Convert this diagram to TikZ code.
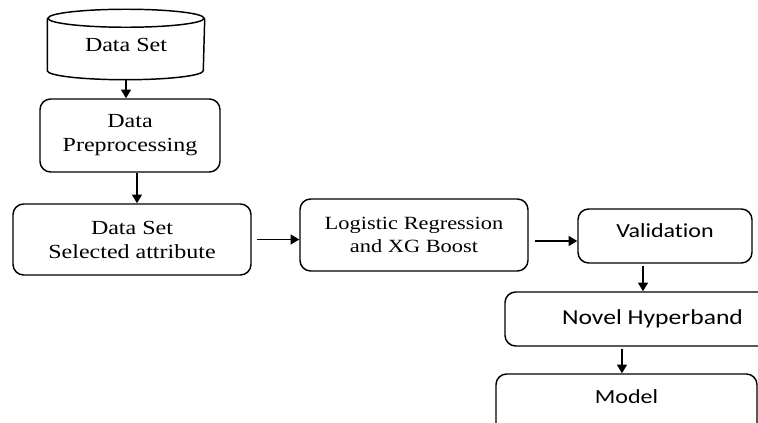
\documentclass[tikz,border=0pt]{standalone}
\usepackage{fontspec}
\setmainfont{Liberation Serif}[FakeStretch=1.2]
\newfontfamily\calfont{Carlito}[FakeStretch=1.2, Ligatures=NoCommon]
\usetikzlibrary{arrows.meta, positioning, calc}

\begin{document}
\begin{tikzpicture}[x=0.75pt, y=0.75pt, line width=1.1pt,
    box/.style={draw, rounded corners=8pt, align=center, inner sep=0pt,
                font=\fontsize{15}{18}\selectfont},
    sbox/.style={box, font=\calfont\fontsize{15}{18}\selectfont},
    arr/.style={-{Triangle[length=6.5pt, width=7.5pt]}}]
  \useasboundingbox (0,0) rectangle (758,423);
  \clip (0,0) rectangle (758,423);

  % --- Data set (cylinder) ---
  \node[minimum width=117pt, minimum height=38.25pt,
        font=\fontsize{15}{18}\selectfont] (dset) at (126,378.5) {Data Set};
  \draw (dset.north west) -- (dset.south west)
        arc[start angle=180, end angle=360, x radius=78, y radius=9]
        -- (dset.north east);
  \draw (dset.north) ellipse[x radius=78, y radius=9];

  % --- Left column ---
  \node[box, minimum width=135pt, minimum height=54.75pt] (prep)
        at (130,287.5) {Data\\Preprocessing};
  \node[box, minimum width=178.5pt, minimum height=53.25pt] (sel)
        at (132,183.5) {Data Set\\Selected attribute};

  % --- Model training ---
  \node[box, minimum width=171pt, minimum height=54pt,
        font=\fontsize{14}{17}\selectfont] (lr)
        at (414,188) {Logistic Regression\\and XG Boost};

  % --- Right column ---
  \node[sbox, minimum width=130.5pt, minimum height=40.5pt,
        text depth=7.5pt] (val)
        at (665,187) {Validation};
  \node[sbox, minimum width=221.25pt, minimum height=40.5pt,
        font=\calfont\fontsize{16}{19}\selectfont] (nh)
        at (652.5,104) {Novel Hyperband};
  \node[sbox, minimum width=195.75pt, minimum height=57pt,
        text height=10pt, text depth=22.7pt] (model)
        at (626.5,11) {Model};

  % --- Arrows ---
  \draw[arr] ([yshift=-6.75pt]dset.south) -- ([xshift=-3pt]prep.north);
  \draw[arr] ([xshift=5.25pt]prep.south) -- ([xshift=5.25pt]prep.south |- sel.north);
  \draw[arr] ([xshift=4pt]sel.east) -- (sel.east -| lr.west);
  \draw[arr] ([xshift=4.5pt, yshift=-4.5pt]lr.east)
        -- ([yshift=-4.5pt]lr.east -| val.west);
  \draw[arr] ([xshift=-16.5pt, yshift=-1.5pt]val.south)
        -- ([xshift=-16.5pt]val.south |- nh.north);
  \draw[arr] ([xshift=-22.9pt, yshift=-1.5pt]nh.south)
        -- ([xshift=-22.9pt]nh.south |- model.north);
\end{tikzpicture}
\end{document}
